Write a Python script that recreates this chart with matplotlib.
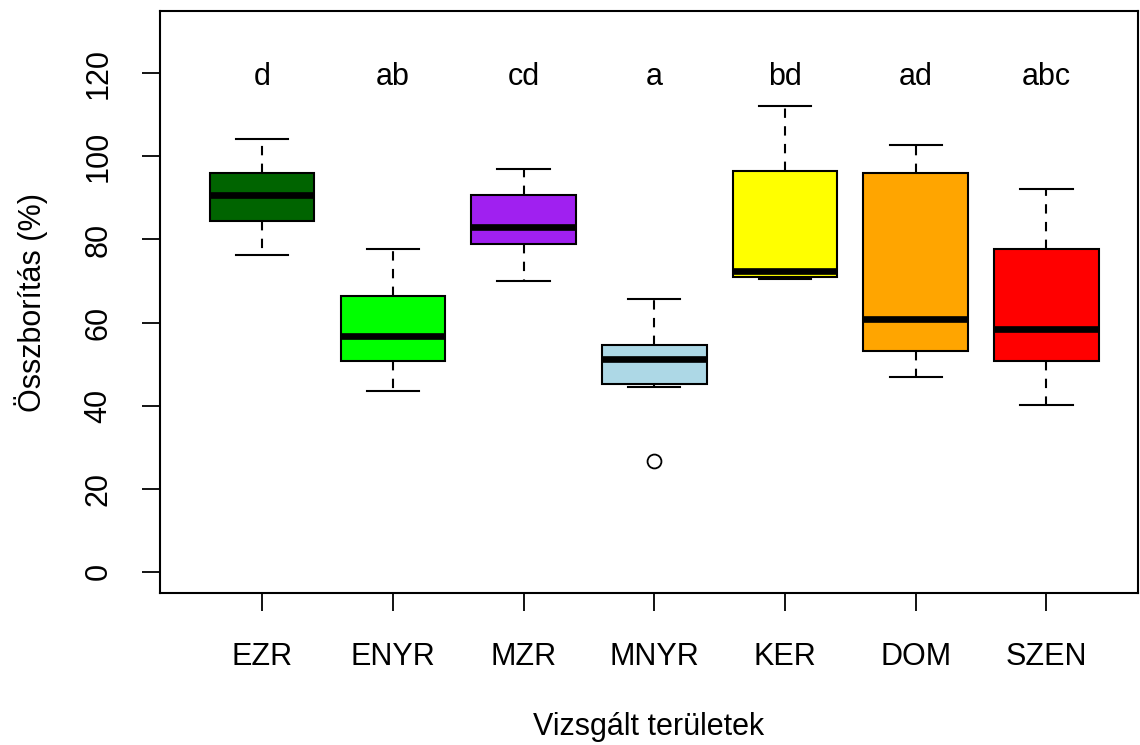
import matplotlib
matplotlib.use("Agg")
import matplotlib.pyplot as plt

plt.rcParams['font.family'] = ['Liberation Sans', 'DejaVu Sans']

# summary statistics per site (lower whisker, Q1, median, Q3, upper whisker)
sites = ["EZR", "ENYR", "MZR", "MNYR", "KER", "DOM", "SZEN"]
whislo = [76.2, 43.6, 70.0, 44.5, 70.5, 46.9, 40.1]
q1 = [84.4, 50.8, 79.0, 45.3, 71.0, 53.2, 50.8]
med = [90.7, 56.8, 83.1, 51.2, 72.4, 60.8, 58.4]
q3 = [96.0, 66.3, 90.7, 54.6, 96.4, 96.0, 77.7]
whishi = [104.2, 77.7, 96.9, 65.6, 112.2, 102.8, 92.1]
outliers = [[], [], [], [26.6], [], [], []]
colors = ["#006400", "#00FF00", "#A020F0", "#ADD8E6", "#FFFF00", "#FFA500", "#FF0000"]
letters = ["d", "ab", "cd", "a", "bd", "ad", "abc"]

stats = []
for i in range(len(sites)):
    stats.append({"whislo": whislo[i], "q1": q1[i], "med": med[i], "q3": q3[i],
                  "whishi": whishi[i], "fliers": outliers[i], "label": sites[i]})

fig = plt.figure(figsize=(11.4, 7.45), dpi=100)
ax = fig.add_axes([159.5 / 1140, 1 - 593 / 745, (1138 - 159.5) / 1140, (593 - 11) / 745])

pos = list(range(1, len(sites) + 1))
bp = ax.bxp(stats, positions=pos, widths=0.8, patch_artist=True,
            boxprops=dict(linewidth=1.5, edgecolor="black"),
            medianprops=dict(color="black", linewidth=4.8, solid_capstyle="butt"),
            whiskerprops=dict(color="black", linewidth=1.5, linestyle=(0, (4.5, 4))),
            capprops=dict(color="black", linewidth=1.5),
            flierprops=dict(marker="o", markersize=10, markerfacecolor="none",
                            markeredgecolor="black", markeredgewidth=1.3),
            capwidths=0.4)
for patch, c in zip(bp["boxes"], colors):
    patch.set_facecolor(c)

# significance letters above each box
for x, t in zip(pos, letters):
    ax.text(x, 120, t, ha="center", va="center_baseline", fontsize=22)

ax.set_xlim(0.215, 7.70)
ax.set_ylim(-5.1, 135.0)
ax.set_yticks(range(0, 121, 20))
ax.set_xticks(pos)
ax.set_xticklabels(sites)
ax.tick_params(axis="y", labelrotation=90, length=13, width=1.3, labelsize=22, pad=20)
ax.tick_params(axis="x", length=13, width=1.3, labelsize=22, pad=22)
for lab in ax.get_yticklabels():
    lab.set_va("center")
for s in ax.spines.values():
    s.set_linewidth(1.5)

ax.set_ylabel("Összborítás (%)", fontsize=22, labelpad=26)
ax.set_xlabel("Vizsgált területek", fontsize=22, labelpad=29)

fig.savefig("out.png", dpi=100)
